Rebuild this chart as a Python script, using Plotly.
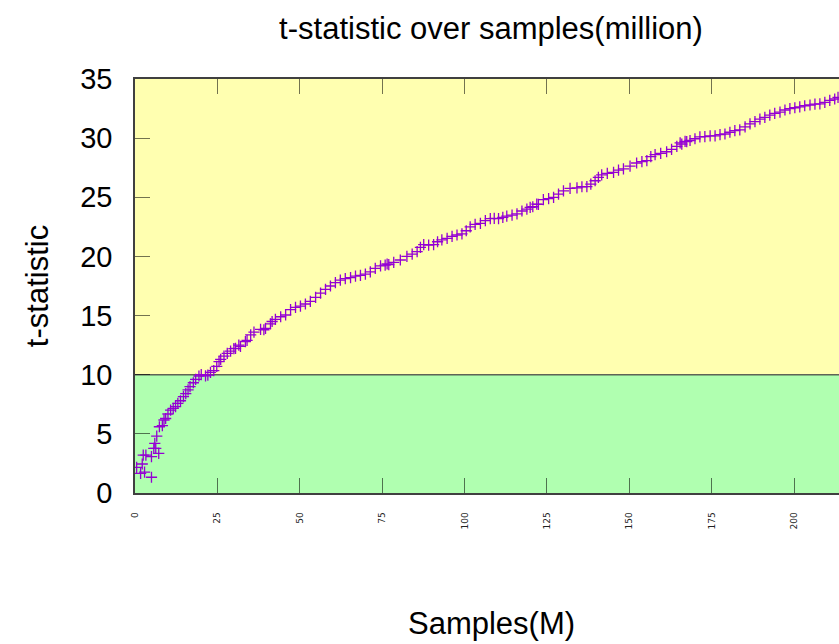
import plotly.graph_objects as go

# Samples (millions) and t-statistic values
samples = [0.5, 1.7, 2.2, 2.5, 2.9, 3.3, 5.0, 5.0, 5.7, 6.0, 6.3, 6.6, 7.2, 7.4, 8.3,
           8.8, 9.3, 10.0, 10.8, 11.6, 12.3, 13.0, 13.8, 14.7, 15.4, 16.1, 16.7, 17.7,
           18.4, 19.4, 20.1, 21.4, 22.1, 22.9, 23.9, 24.8, 25.5, 26.0, 27.0,
           28.0, 29.0, 30.0, 30.5, 31.5, 32.0, 33.5, 34.0, 35.1, 36.1, 38.1, 39.1, 39.6,
           41.1, 41.6, 42.6, 44.2, 45.7, 47.2, 48.7, 50.2, 51.7,
           53.2, 54.8, 56.3, 57.8, 59.3, 60.8, 62.3, 63.8, 65.4, 66.9, 68.4, 69.9,
           71.4, 72.9, 74.5, 75.9, 76.5, 77.0, 78.5, 80.5, 82.5, 84.1, 85.6, 86.6,
           87.6, 89.1, 90.6, 91.8, 93.1, 94.7, 96.2, 97.7, 99.2, 100.5, 101.7, 103.2,
           104.8, 106.3, 107.8, 109.0, 110.3, 111.6, 112.8, 114.4, 115.9, 117.4,
           118.9, 119.9, 120.7, 121.9, 122.4, 123.9, 125.5, 127.0, 128.5, 130.0, 132.0,
           134.1, 135.6, 137.1, 138.3, 139.6, 140.6, 141.6, 143.3,
           145.2, 146.7, 148.2, 150.2, 152.2, 153.8, 155.3, 156.5, 157.8, 159.5,
           161.3, 162.8, 164.4, 165.4, 165.9, 166.9, 167.4, 168.4, 169.9,
           171.4, 172.9, 174.5, 176.0, 177.5, 179.0, 180.5, 182.0, 183.5, 185.1,
           186.6, 188.1, 189.6, 191.1, 192.6, 194.1, 195.7, 197.2, 198.7, 200.2,
           201.7, 203.2, 204.8, 206.3, 207.8, 209.3, 210.8, 212.3, 213.3]
tstat = [2.17, 1.66, 2.45, 3.2, 1.77, 3.2, 1.33, 3.07, 3.78, 4.2, 3.78, 4.8, 3.35, 5.6, 5.7,
         6.17, 6.3, 6.68, 7.0, 7.16, 7.3, 7.58, 7.8, 8.14, 8.4, 8.71, 9.0, 9.32,
         9.6, 9.89, 10.0, 9.9, 9.97, 10.2, 10.34, 10.7, 11.1, 11.3, 11.58,
         11.8, 12.0, 12.2, 12.23, 12.5, 12.4, 12.79, 12.9, 13.36, 13.6, 13.83, 13.8, 13.92,
         14.29, 14.5, 14.68, 14.9, 15.05, 15.5, 15.7, 15.8, 15.98,
         16.2, 16.54, 16.9, 17.22, 17.5, 17.78, 18.0, 18.12, 18.2, 18.34, 18.4, 18.51,
         18.7, 18.99, 19.2, 19.27, 19.36, 19.3, 19.5, 19.7, 20.0, 20.2, 20.4, 20.77,
         21.0, 20.96, 21.0, 21.24, 21.4, 21.53, 21.7, 21.81, 21.9, 22.17, 22.5, 22.71,
         22.8, 23.02, 23.2, 23.22, 23.2, 23.3, 23.4, 23.5, 23.6, 23.84,
         24.0, 24.15, 24.2, 24.43, 24.4, 24.8, 24.88, 25.0, 25.27, 25.55, 25.76,
         25.8, 25.89, 25.9, 26.12, 26.4, 26.69, 26.9, 27.02,
         27.1, 27.3, 27.4, 27.64, 27.9, 28.01, 28.1, 28.43, 28.6, 28.72,
         28.85, 29.05, 29.3, 29.6, 29.5, 29.73, 29.7, 29.8, 29.95,
         30.1, 30.12, 30.2, 30.2, 30.3, 30.35, 30.5, 30.63, 30.7, 30.96,
         31.2, 31.39, 31.6, 31.76, 31.95, 32.1, 32.2, 32.38, 32.5, 32.57,
         32.65, 32.74, 32.8, 32.88, 32.9, 33.03, 33.2, 33.31, 33.45]

y_ticks = [0, 5, 10, 15, 20, 25, 30, 35]
x_ticks = [0, 25, 50, 75, 100, 125, 150, 175, 200]
threshold = 10
y_max = 35
x_max = 213.6

FONT = "Liberation Sans, Arial, sans-serif"

fig = go.Figure()
fig.add_trace(go.Scatter(
    x=samples, y=tstat, mode="markers",
    marker=dict(symbol="cross-thin", size=8, color="#9400d3",
                line=dict(color="#9400d3", width=1.3)),
    showlegend=False,
))

# background bands
fig.add_shape(type="rect", xref="paper", yref="y", x0=0, x1=1, y0=threshold, y1=y_max,
              fillcolor="#ffffb0", line=dict(width=0), layer="below")
fig.add_shape(type="rect", xref="paper", yref="y", x0=0, x1=1, y0=0, y1=threshold,
              fillcolor="#b0ffb0", line=dict(width=0), layer="below")
fig.add_shape(type="line", xref="paper", yref="y", x0=0, x1=1, y0=threshold, y1=threshold,
              line=dict(color="rgba(60,60,60,0.8)", width=1.5), layer="below")

fig.update_layout(
    width=839, height=644,
    margin=dict(l=135, r=0, t=79, b=151),
    paper_bgcolor="white", plot_bgcolor="white",
    font=dict(family=FONT, color="black"),
    title=dict(text="t-statistic over samples(million)", x=491/839, xref="container",
               xanchor="center", y=1 - 28/644, yanchor="middle",
               font=dict(size=31, family=FONT)),
    xaxis=dict(range=[0, x_max], tickvals=x_ticks, ticktext=[str(v) for v in x_ticks],
               ticks="inside", ticklen=15, tickwidth=1.2, tickcolor="rgba(0,0,0,0.55)",
               tickangle=-90, tickfont=dict(size=9, family="DejaVu Sans", color="#222"),
               ticklabelstandoff=14,
               showgrid=False, zeroline=False, showline=True, linecolor="#404040",
               linewidth=1.5, mirror="ticks"),
    yaxis=dict(range=[0, y_max], tickvals=y_ticks, ticks="inside", ticklen=15,
               tickwidth=1.2, tickcolor="rgba(0,0,0,0.55)",
               tickfont=dict(size=29, family=FONT), ticklabelstandoff=15,
               showgrid=False, zeroline=False, showline=True, linecolor="#404040",
               linewidth=1.5,
               title=dict(text="t-statistic", font=dict(size=31, family=FONT), standoff=22)),
    annotations=[dict(text="Samples(M)", xref="paper", yref="paper",
                      x=(491 - 135) / 704, y=-(623 - 493) / 414, xanchor="center",
                      yanchor="middle", showarrow=False, font=dict(size=31, family=FONT))],
)

fig.write_html("out.html", config={"displayModeBar": False},
               post_script="document.body.style.margin='0';document.body.style.overflow='hidden';")
